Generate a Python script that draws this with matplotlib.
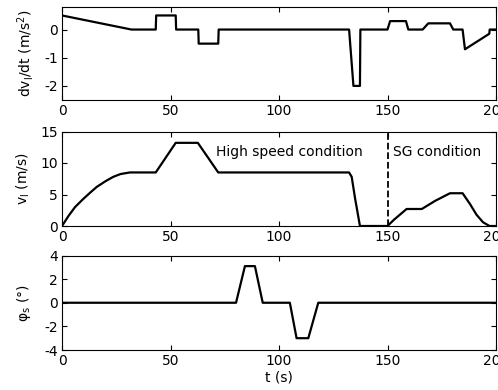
import matplotlib

matplotlib.use("Agg")
import matplotlib.pyplot as plt  # noqa: E402

plt.rcParams["font.family"] = ["DejaVu Sans"]
plt.rcParams["mathtext.default"] = "regular"
plt.rcParams["axes.unicode_minus"] = False
plt.rcParams["font.size"] = 10

# acceleration of leading vehicle
acc_t = [0, 32, 43.2, 43.4, 52.4, 52.6, 62.8, 63.0, 72.0, 72.2, 132.3, 134.3,
         137.3, 137.5, 150.0, 151.2, 158.5, 159.6, 166.2, 168.8, 178.8, 180.3,
         184.6, 185.7, 196.9, 197.1, 200]
acc_v = [0.5, 0, 0, 0.5, 0.5, 0, 0, -0.5, -0.5, 0, 0, -2,
         -2, 0, 0, 0.3, 0.3, 0, 0, 0.22, 0.22, 0, 0, -0.7, -0.15, 0, 0]

# speed of leading vehicle
vel_t = [0, 3, 6, 9.8, 13, 16, 20, 23.6, 27, 31.3, 43.2, 52.4, 62.6, 72.0,
         132.3, 133.5, 135, 137.3, 150, 153, 158.8, 165.8, 172, 178.8, 184.6,
         188, 191, 194, 197, 200]
vel_v = [0, 1.6, 3.0, 4.3, 5.3, 6.2, 7.1, 7.8, 8.25, 8.5, 8.5, 13.2, 13.2, 8.5,
         8.5, 7.8, 4.5, 0, 0, 1.0, 2.7, 2.7, 4.0, 5.2, 5.2, 3.5, 1.8, 0.6, 0, 0]

# steering angle
phi_t = [0, 80.2, 84.3, 88.9, 92.5, 105.0, 108.1, 113.5, 118.1, 200]
phi_v = [0, 0, 3.1, 3.1, 0, 0, -3.0, -3.0, 0, 0]

LEFT, WIDTH = 62 / 498, 434 / 498


def _style(ax):
    ax.set_xlim(0, 200)
    ax.set_xticks([0, 50, 100, 150, 200])
    ax.tick_params(direction="in", top=True, right=True, length=3.5,
                   width=0.8, pad=3)
    for sp in ax.spines.values():
        sp.set_linewidth(0.8)


fig = plt.figure(figsize=(4.98, 3.9), dpi=100)

ax1 = fig.add_axes([LEFT, 1 - 100 / 390, WIDTH, 93 / 390])
ax1.plot(acc_t, acc_v, color="k", linewidth=1.6)
ax1.set_ylim(-2.5, 0.8)
ax1.set_yticks([-2, -1, 0])
ax1.set_ylabel("dv$_l$/dt (m/s$^2$)", labelpad=6)
_style(ax1)

ax2 = fig.add_axes([LEFT, 1 - 226 / 390, WIDTH, 94.5 / 390])
ax2.plot(vel_t, vel_v, color="k", linewidth=1.6)
ax2.axvline(150, color="k", linestyle="--", linewidth=1.3)
ax2.set_ylim(0, 15)
ax2.set_yticks([0, 5, 10, 15])
ax2.set_ylabel("v$_l$ (m/s)", labelpad=6)
ax2.text(71, 11.7, "High speed condition", ha="left", va="center")
ax2.text(152.5, 11.7, "SG condition", ha="left", va="center")
_style(ax2)

ax3 = fig.add_axes([LEFT, 1 - 350 / 390, WIDTH, 94.5 / 390])
ax3.plot(phi_t, phi_v, color="k", linewidth=1.6)
ax3.set_ylim(-4, 4)
ax3.set_yticks([-4, -2, 0, 2, 4])
ax3.set_ylabel("φ$_s$ (°)", labelpad=8)
ax3.set_xlabel("t (s)", labelpad=2)
_style(ax3)

fig.savefig("out.png", dpi=100)
